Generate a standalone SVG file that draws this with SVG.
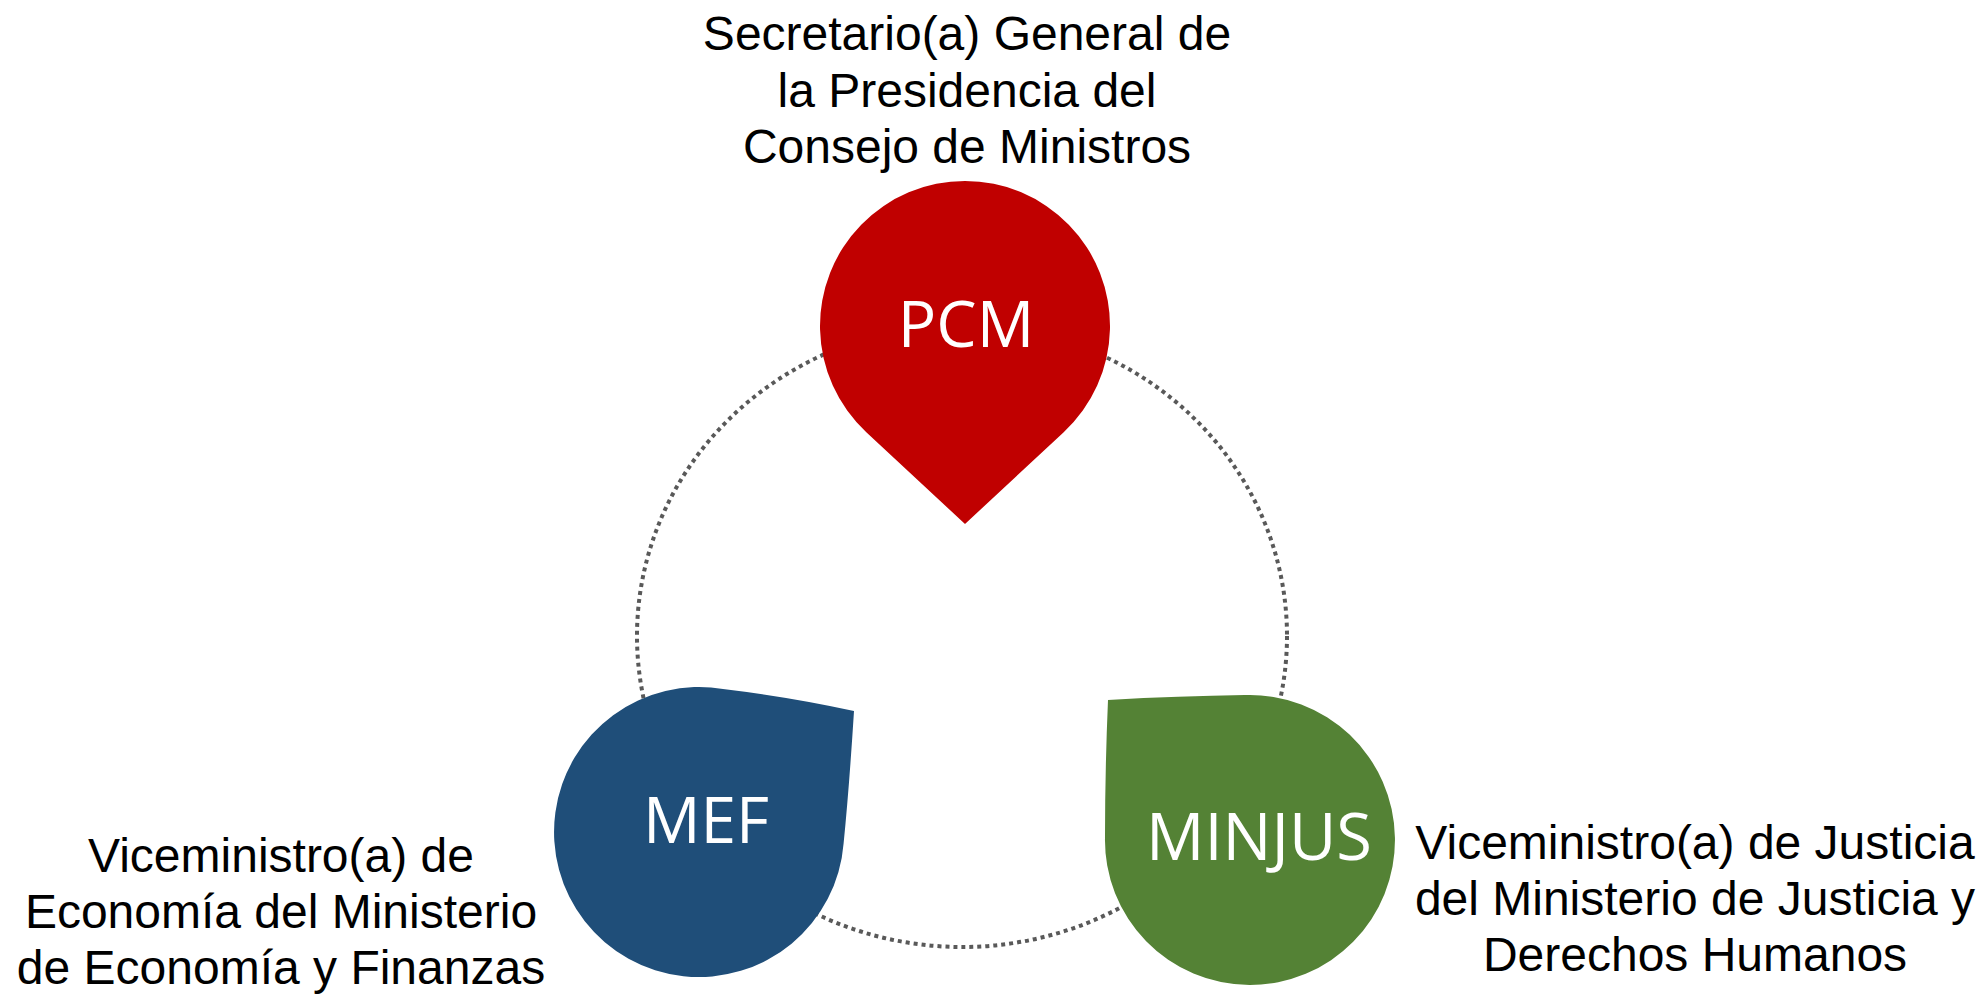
<svg xmlns="http://www.w3.org/2000/svg" width="1983" height="994" viewBox="0 0 1983 994">
  <style>
    .cap { font-family: "Liberation Sans", Arial, sans-serif; font-size: 48px; fill: #000000; text-anchor: middle; }
    .lbl { font-family: "Open Sans", "Noto Sans", sans-serif; font-size: 64px; fill: #FFFFFF; text-anchor: middle; }
    .ring { fill: none; stroke: #595959; stroke-width: 4; stroke-dasharray: 4 4; }
  </style>
  <rect width="1983" height="994" fill="#FFFFFF"/>
  <g id="connectors">
    <ellipse class="ring" cx="962" cy="636" rx="325" ry="311"/>
  </g>
  <g id="node-pcm">
    <path d="M965,524 L866.3,432.2 A145,145 0 1 1 1063.7,432.2 Z" fill="#C00000"/>
    <text class="lbl" x="966" y="347">PCM</text>
  </g>
  <g id="node-mef">
    <path d="M854,711 Q849,790 843.6,843.4 A145,145 0 1 1 723,689 Q790,697 854,711 Z" fill="#1F4E79"/>
    <text class="lbl" x="706" y="843">MEF</text>
  </g>
  <g id="node-minjus">
    <path d="M1108,700 Q1180,696 1244.8,695.1 A145,145 0 1 1 1105,836.8 Q1105,770 1108,700 Z" fill="#548235"/>
    <text class="lbl" x="1259" y="860" style="font-size:65px">MINJUS</text>
  </g>
  <g id="label-pcm">
    <text class="cap" x="967" y="50">Secretario(a) General de</text>
    <text class="cap" x="967" y="107">la Presidencia del</text>
    <text class="cap" x="967" y="163">Consejo de Ministros</text>
  </g>
  <g id="label-mef">
    <text class="cap" x="281" y="872">Viceministro(a) de</text>
    <text class="cap" x="281" y="928">Economía del Ministerio</text>
    <text class="cap" x="281" y="984">de Economía y Finanzas</text>
  </g>
  <g id="label-minjus">
    <text class="cap" x="1695" y="859">Viceministro(a) de Justicia</text>
    <text class="cap" x="1695" y="915">del Ministerio de Justicia y</text>
    <text class="cap" x="1695" y="971">Derechos Humanos</text>
  </g>
</svg>
